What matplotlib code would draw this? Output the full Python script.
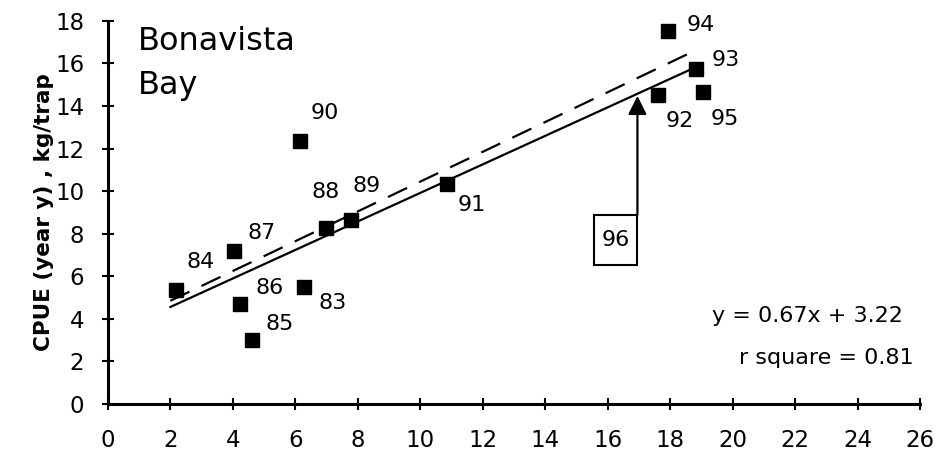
import matplotlib
matplotlib.use("Agg")
import matplotlib.pyplot as plt
from matplotlib.patches import Rectangle
import numpy as np

plt.rcParams['font.family'] = ['DejaVu Sans']

# catch rate in year x (kg/trap) vs CPUE in year y, labelled by year
years = ["83", "84", "85", "86", "87", "88", "89", "90", "91", "92", "93", "94", "95"]
cpue_x = [6.28, 2.18, 4.61, 4.23, 4.03, 6.98, 7.78, 6.15, 10.85, 17.6, 18.83, 17.92, 19.04]
cpue_y = [5.5, 5.36, 3.0, 4.7, 7.19, 8.27, 8.65, 12.36, 10.34, 14.52, 15.74, 17.53, 14.66]

# label offsets for each year (data units)
lab_dx = [0.9, 0.8, 0.9, 0.95, 0.9, 0.0, 0.5, 0.8, 0.8, 0.7, 0.95, 1.05, 0.7]
lab_dy = [-0.75, 1.3, 0.75, 0.75, 0.85, 1.7, 1.6, 1.3, -1.0, -1.2, 0.4, 0.3, -1.25]

slope, intercept, r2 = 0.67, 3.22, 0.81
fit_x = [2.0, 18.6]
alt_slope, alt_intercept = 0.70, 3.45
alt_x = [2.0, 18.9]

pred_year = "96"
pred_x = 16.95

fig = plt.figure(figsize=(9.38, 4.54), dpi=100)
ax = fig.add_axes([0.115, 0.110, 0.866, 0.844])

ax.plot(cpue_x, cpue_y, 's', color='black', markersize=10.5, zorder=3)
for lab, x, y, dx, dy in zip(years, cpue_x, cpue_y, lab_dx, lab_dy):
    ax.text(x + dx, y + dy, lab, fontsize=16, ha='center', va='center')

fx = np.array(fit_x)
ax.plot(fx, slope * fx + intercept, '-', color='black', lw=1.6)
ax2x = np.array(alt_x)
ax.plot(ax2x, alt_slope * ax2x + alt_intercept, color='black', lw=1.6,
        linestyle=(0, (9.5, 6)))

# prediction for 96 from the fitted line
tip_y = slope * pred_x + intercept - 0.1
box_w, box_top, box_bot = 1.4, 8.9, 6.55
ax.add_patch(Rectangle((pred_x - box_w, box_bot), box_w, box_top - box_bot,
                       fill=False, edgecolor='black', lw=1.5))
ax.text(pred_x - box_w / 2, (box_top + box_bot) / 2, pred_year, fontsize=16,
        ha='center', va='center')
ax.annotate('', xy=(pred_x, tip_y), xytext=(pred_x, box_top),
            arrowprops=dict(arrowstyle='-|>', color='black', lw=1.6,
                            mutation_scale=28, shrinkA=0, shrinkB=0))

ax.text(0.96, 16.0, "Bonavista\nBay", fontsize=23, ha='left', va='center',
        linespacing=1.55)
ax.text(25.46, 4.13, f"y = {slope}x + {intercept}", fontsize=16, ha='right', va='center')
ax.text(25.78, 2.16, f"r square = {r2}", fontsize=16, ha='right', va='center')

ax.set_xlim(0, 26)
ax.set_ylim(0, 18)
ax.set_xticks(range(0, 27, 2))
ax.set_yticks(range(0, 19, 2))
ax.set_ylabel("CPUE (year y) , kg/trap", fontsize=15.5, fontweight='bold')
ax.yaxis.set_label_coords(-0.066, 0.5)
ax.tick_params(direction='inout', length=8, width=1.5, labelsize=16.5)
ax.tick_params(axis='y', pad=13)
ax.tick_params(axis='x', pad=14)
for s in ['top', 'right']:
    ax.spines[s].set_visible(False)
for s in ['left', 'bottom']:
    ax.spines[s].set_linewidth(2.2)

fig.savefig("out.png", dpi=100)
